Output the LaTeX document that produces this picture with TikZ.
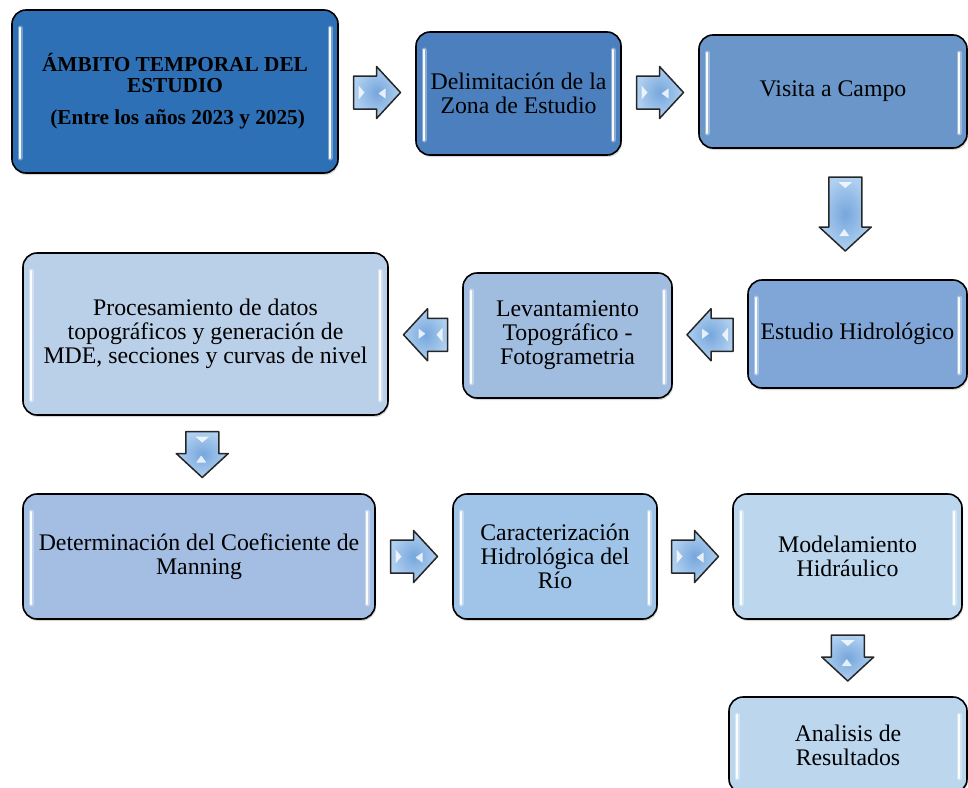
\documentclass[tikz,border=0pt]{standalone}
\usepackage{fontspec}
\setmainfont{Liberation Serif}
\usepackage{xcolor}
\usetikzlibrary{positioning, calc, shadows}
\definecolor{azulA}{RGB}{46,112,181}
\definecolor{azulB}{RGB}{75,127,189}
\definecolor{azulC}{RGB}{106,150,201}
\definecolor{azulD}{RGB}{127,166,214}
\definecolor{azulE}{RGB}{160,189,224}
\definecolor{azulF}{RGB}{186,207,232}
\definecolor{azulG}{RGB}{163,190,226}
\definecolor{azulH}{RGB}{160,196,232}
\definecolor{azulI}{RGB}{188,214,238}
\definecolor{flechaclaro}{RGB}{176,208,240}
\definecolor{flechaoscuro}{RGB}{118,166,220}
\tikzstyle{flechafill} = [draw=black!85, line width=1.5pt, line join=round,
                          inner color=flechaoscuro, outer color=flechaclaro]
\tikzstyle{brillo}     = [fill=white, opacity=.8, draw=none]
\tikzset{pics/flecha/.style={code={
  \path[flechafill] (-#1/2,-16.5) -- (#1/2-24,-16.5) -- (#1/2-24,-26) -- (#1/2,0)
        -- (#1/2-24,26) -- (#1/2-24,16.5) -- (-#1/2,16.5) -- cycle;
  \path[brillo] (-#1/2+5,-7) -- (-#1/2+11,0) -- (-#1/2+5,7) -- cycle;
  \path[brillo] (#1/2-22,1) -- (#1/2-15,-4) -- (#1/2-15,6) -- cycle;
}}}

\begin{document}
\begin{tikzpicture}[x=1pt, y=-1pt, font=\fontsize{23.8}{24}\selectfont]
        \tikzstyle{caja}=[rectangle, rounded corners=14pt, draw=black, line width=1.6pt,
                          align=center, inner sep=0pt,
                          drop shadow={opacity=.3, shadow xshift=1pt, shadow yshift=-2pt},
                          path picture={
                            \foreach \lado/\dx in {west/8pt, east/-8pt} {
                              \draw[white, line width=5pt, line cap=round, opacity=.35, sharp corners]
                                ([xshift=\dx,yshift=-18pt]path picture bounding box.north \lado)
                                -- ([xshift=\dx,yshift=15pt]path picture bounding box.south \lado);
                              \draw[white, line width=2.4pt, line cap=round, opacity=.95, sharp corners]
                                ([xshift=\dx,yshift=-18pt]path picture bounding box.north \lado)
                                -- ([xshift=\dx,yshift=15pt]path picture bounding box.south \lado);
                            }
                          }]
        \useasboundingbox (0,0) rectangle (968,787);
        \node (amb) [caja, fill=azulA, minimum width=326pt, minimum height=163pt,
                     font=\bfseries\fontsize{21.3}{20.5}\selectfont] at (175,91.5)
              {ÁMBITO TEMPORAL DEL\\ESTUDIO\\[12pt]\ (Entre los años 2023 y 2025)};
        \node (del) [caja, fill=azulB, minimum width=205pt, minimum height=123pt] at (518.5,93.5)
              {Delimitación de la\\Zona de Estudio};
        \node (vis) [caja, fill=azulC, minimum width=268pt, minimum height=113pt] at (833,91.5)
              {Visita a Campo};
        \node (hid) [caja, fill=azulD, minimum width=219pt, minimum height=108pt] at (857.5,334)
              {Estudio Hidrológico};
        \node (lev) [caja, fill=azulE, minimum width=209pt, minimum height=125pt] at (567.5,335.5)
              {Levantamiento\\Topográfico -\\Fotogrametria};
        \node (pro) [caja, fill=azulF, minimum width=365pt, minimum height=162pt] at (205.5,334)
              {Procesamiento de datos\\topográficos y generación de\\MDE, secciones y curvas de nivel};
        \node (man) [caja, fill=azulG, minimum width=352pt, minimum height=125pt] at (199,556.5)
              {Determinación del Coeficiente de\\Manning};
        \node (car) [caja, fill=azulH, minimum width=204pt, minimum height=125pt] at (555,556.5)
              {Caracterización\\Hidrológica del\\Río};
        \node (mod) [caja, fill=azulI, minimum width=229pt, minimum height=125pt] at (847.5,556.5)
              {Modelamiento\\Hidráulico};
        \node (res) [caja, fill=azulI, minimum width=238pt, minimum height=96pt] at (848,745)
              {Analisis de\\Resultados};
        \pic at ($(amb.east)!0.5!(del.west)$) {flecha=47};
        \pic at ($(del.east)!0.5!(vis.west)$) {flecha=47};
        \pic[rotate=-90] at ($(vis.south)!0.5!(hid.north)$) {flecha=74};
        \pic[rotate=180] at ($(hid.west)!0.5!(lev.east)$) {flecha=46};
        \pic[rotate=180] at ($(lev.west)!0.5!(pro.east)$) {flecha=44};
        \pic[rotate=-90] at ($(pro.south)!0.5!(man.north)$) {flecha=46};
        \pic at ($(man.east)!0.5!(car.west)$) {flecha=47};
        \pic at ($(car.east)!0.5!(mod.west)$) {flecha=47};
        \pic[rotate=-90] at ($(mod.south)!0.5!(res.north)$) {flecha=46};
\end{tikzpicture}
\end{document}
